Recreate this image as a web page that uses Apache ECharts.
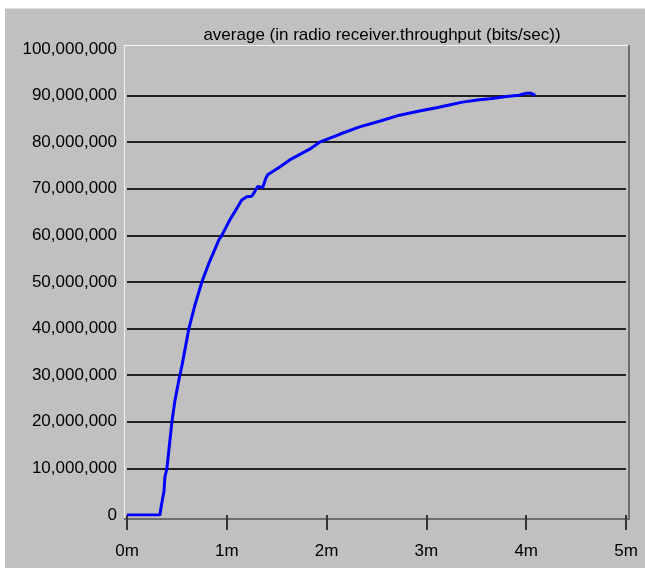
<!DOCTYPE html>
<html>
<head>
<meta charset="utf-8">
<script src="https://cdn.jsdelivr.net/npm/echarts@6/dist/echarts.min.js"></script>
<style>
html,body{margin:0;padding:0;background:#fff;}
#chart{width:645px;height:568px;}
</style>
</head>
<body>
<div id="chart"></div>
<script>
// time in minutes
const timeMin = [0, 0.33, 0.34, 0.36, 0.37, 0.38, 0.40, 0.42, 0.45, 0.48, 0.52, 0.55, 0.62, 0.68, 0.75, 0.82, 0.92, 0.95, 1.03, 1.10, 1.15, 1.20, 1.25, 1.28, 1.31, 1.36, 1.39, 1.41, 1.53, 1.63, 1.70, 1.83, 1.93, 2.13, 2.33, 2.53, 2.73, 2.93, 3.10, 3.23, 3.36, 3.53, 3.66, 3.80, 3.93, 4.00, 4.05, 4.09];
// average throughput in millions of bits/sec
const throughputM = [0, 0, 1.5, 3.9, 5, 8.2, 10, 14, 20, 24.5, 29, 32, 40, 45, 50, 54, 59, 60, 63.3, 65.8, 67.6, 68.3, 68.4, 69.4, 70.5, 70.3, 72.2, 73, 74.7, 76.2, 77.0, 78.5, 80, 81.7, 83.3, 84.5, 85.8, 86.7, 87.4, 88.0, 88.6, 89.1, 89.4, 89.8, 90.1, 90.5, 90.5, 90.05];
const xTickLabels = ['0m', '1m', '2m', '3m', '4m', '5m'];
const titleText = 'average (in radio receiver.throughput (bits/sec))';

const FONT = '"Liberation Sans", Arial, sans-serif';
const chart = echarts.init(document.getElementById('chart'), null, {renderer: 'canvas'});
const data = timeMin.map((t, i) => [t, throughputM[i]]);

chart.setOption({
  backgroundColor: '#c0c0c0',
  animation: false,
  title: {
    text: titleText,
    left: 377, top: 22, textAlign: 'center',
    textStyle: {fontFamily: FONT, fontSize: 17, fontWeight: 'normal', color: '#000'}
  },
  grid: {left: 127, right: 19, top: 49, bottom: 53, containLabel: false},
  xAxis: {
    type: 'value', min: 0, max: 5, interval: 1, offset: 4,
    axisLine: {show: false},
    axisTick: {show: true, length: 15, lineStyle: {color: '#333', width: 2}},
    axisLabel: {margin: 24, fontFamily: FONT, fontSize: 17, color: '#000',
      formatter: v => xTickLabels[Math.round(v)]},
    splitLine: {show: false}
  },
  yAxis: {
    type: 'value', min: 0, max: 100, interval: 10,
    axisLine: {show: false}, axisTick: {show: false},
    axisLabel: {margin: 10, fontFamily: FONT, fontSize: 17, color: '#000',
      formatter: v => (Math.round(v) * 1000000).toLocaleString('en-US')},
    splitLine: {show: true, showMinLine: false, showMaxLine: false, lineStyle: {color: '#222', width: 2}}
  },
  graphic: [
    {type: 'rect', shape: {x: 0, y: 0, width: 645, height: 8}, style: {fill: '#fff'}, silent: true},
    {type: 'rect', shape: {x: 0, y: 0, width: 5, height: 568}, style: {fill: '#fff'}, silent: true},
    {type: 'line', shape: {x1: 5, y1: 8.5, x2: 645, y2: 8.5}, style: {stroke: '#e0e0e0', lineWidth: 1}},
    {type: 'line', shape: {x1: 124, y1: 45.5, x2: 629, y2: 45.5}, style: {stroke: '#f4f4f4', lineWidth: 1}},
    {type: 'line', shape: {x1: 124.5, y1: 45, x2: 124.5, y2: 519}, style: {stroke: '#f4f4f4', lineWidth: 1}},
    {type: 'line', shape: {x1: 629, y1: 45, x2: 629, y2: 520}, style: {stroke: '#6e6e6e', lineWidth: 2}},
    {type: 'line', shape: {x1: 124, y1: 519, x2: 630, y2: 519}, style: {stroke: '#6e6e6e', lineWidth: 2}}
  ],
  series: [{
    type: 'line',
    data: data,
    showSymbol: false,
    lineStyle: {color: '#0000ff', width: 3},
    itemStyle: {color: '#0000ff'},
    z: 5
  }]
});
</script>
</body>
</html>
